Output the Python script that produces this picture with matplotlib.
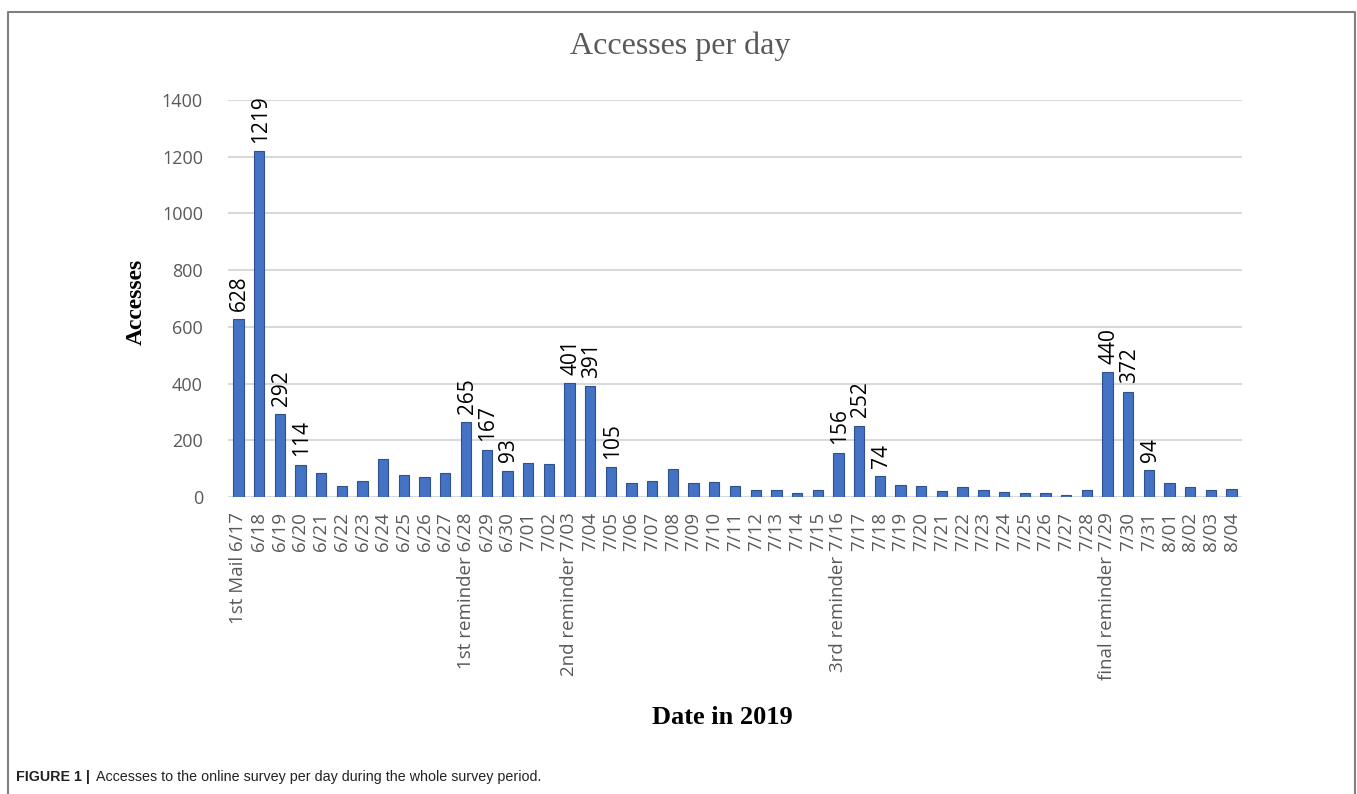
import matplotlib
matplotlib.use("Agg")
import matplotlib.pyplot as plt
from matplotlib.lines import Line2D

dates = ["6/17", "6/18", "6/19", "6/20", "6/21", "6/22", "6/23", "6/24", "6/25", "6/26",
         "6/27", "6/28", "6/29", "6/30", "7/01", "7/02", "7/03", "7/04", "7/05", "7/06",
         "7/07", "7/08", "7/09", "7/10", "7/11", "7/12", "7/13", "7/14", "7/15", "7/16",
         "7/17", "7/18", "7/19", "7/20", "7/21", "7/22", "7/23", "7/24", "7/25", "7/26",
         "7/27", "7/28", "7/29", "7/30", "7/31", "8/01", "8/02", "8/03", "8/04"]
accesses = [628, 1219, 292, 114, 86, 40, 55, 134, 77, 69,
            85, 265, 167, 93, 121, 118, 401, 391, 105, 51,
            55, 98, 49, 53, 38, 25, 23, 13, 25, 156,
            252, 74, 44, 38, 22, 36, 25, 19, 14, 13,
            8, 23, 440, 372, 94, 51, 36, 23, 28]
events = {"6/17": "1st Mail", "6/28": "1st reminder", "7/03": "2nd reminder",
          "7/16": "3rd reminder", "7/29": "final reminder"}
labelled = ["6/17", "6/18", "6/19", "6/20", "6/28", "6/29", "6/30", "7/03", "7/04",
            "7/05", "7/16", "7/17", "7/18", "7/29", "7/30", "7/31"]
yticks = [0, 200, 400, 600, 800, 1000, 1200, 1400]

W, H = 1357, 794
fig = plt.figure(figsize=(W / 100, H / 100), dpi=100)
ax = fig.add_axes([228 / W, 1 - 497 / H, (1242 - 228) / W, (497 - 100) / H])

x = list(range(len(dates)))
ax.bar(x, accesses, width=0.5, color="#4472C4", edgecolor="#2F528F", linewidth=0.8, zorder=3)

for i, d in enumerate(dates):
    if d in labelled:
        ax.annotate(str(accesses[i]), (i, accesses[i]), xytext=(1, 6), textcoords="offset points",
                    rotation=90, ha="center", va="bottom", fontsize=15,
                    family="Open Sans", color="black", zorder=4)

ax.set_xlim(-0.5, len(dates) - 0.5)
ax.set_ylim(0, 1400)
ax.set_yticks(yticks)
ax.set_yticklabels([str(v) for v in yticks], family="Open Sans", fontsize=13, color="#595959")
ax.set_xticks(x)
ax.set_xticklabels([(events[d] + " " + d) if d in events else d for d in dates],
                   rotation=90, family="Open Sans", fontsize=13.5, color="#595959",
                   ha="center", va="top")
ax.tick_params(axis="y", length=0, pad=18)
ax.tick_params(axis="x", length=0, pad=11)
ax.grid(axis="y", color="#D9D9D9", linewidth=1.5, zorder=0)
for s in ax.spines.values():
    s.set_visible(False)

fig.text(680 / W, 1 - 46 / H, "Accesses per day", ha="center", va="center",
         family="Liberation Serif", fontsize=23, color="#595959")
fig.text(136 / W, 1 - 302 / H, "Accesses", ha="center", va="center", rotation=90,
         family="Liberation Serif", fontweight="bold", fontsize=17, color="black")
fig.text(722 / W, 1 - 717 / H, "Date in 2019", ha="center", va="center",
         family="Liberation Serif", fontweight="bold", fontsize=19, color="black")

cap = fig.text(16 / W, 1 - 777 / H, "FIGURE 1 |", ha="left", va="center",
               family="Liberation Sans", fontweight="bold", fontsize=10.3, color="#222222")
fig.text(0, 0, "", visible=False)
from matplotlib.text import Annotation
ann = Annotation("Accesses to the online survey per day during the whole survey period.",
                 xy=(1, 0.5), xycoords=cap, xytext=(4, 0), textcoords="offset points",
                 ha="left", va="center", family="Liberation Sans", fontsize=10.3,
                 color="#222222")
fig.add_artist(ann)

bx0, bx1, by1 = 8 / W, 1355 / W, 1 - 12 / H
fig.add_artist(Line2D([bx0, bx0, bx1, bx1], [0, by1, by1, 0], transform=fig.transFigure,
                      color="#808080", linewidth=1.5))

fig.savefig("out.png", dpi=100)
